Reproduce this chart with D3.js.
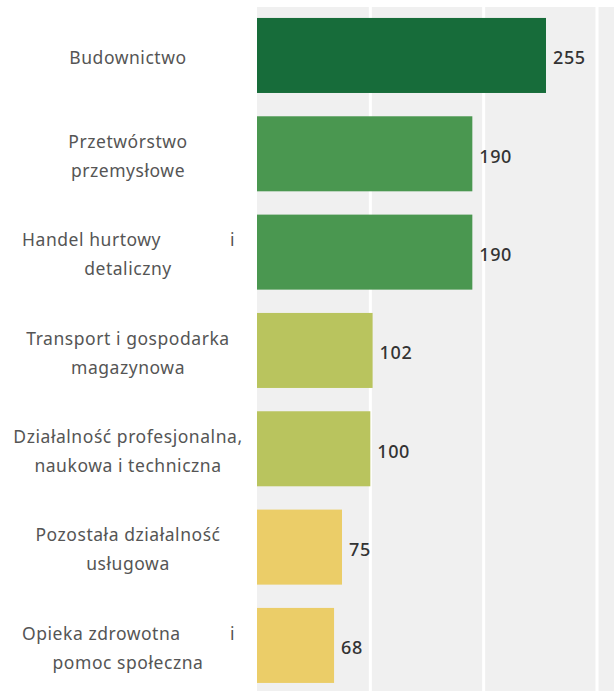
<!DOCTYPE html>
<html>
<head>
<meta charset="utf-8">
<script src="https://cdn.jsdelivr.net/npm/d3@7"></script>
<style>
  html, body { margin: 0; padding: 0; background: #fff; }
  svg { display: block; font-family: "Noto Sans", "Open Sans", sans-serif; }
</style>
</head>
<body>
<svg id="chart" width="614" height="691"></svg>
<script>
// ---- data ----
// each category = list of text lines; a line given as [left, right] is justified
const categories = [
  ["Budownictwo"],
  ["Przetwórstwo", "przemysłowe"],
  [["Handel hurtowy", "i"], "detaliczny"],
  ["Transport i gospodarka", "magazynowa"],
  ["Działalność profesjonalna,", "naukowa i techniczna"],
  ["Pozostała działalność", "usługowa"],
  [["Opieka zdrowotna", "i"], "pomoc społeczna"]
];
const values = [255, 190, 190, 102, 100, 75, 68];
const barColors = ["#176c3a", "#4a9750", "#4a9750", "#b9c45e", "#b9c45e", "#ebcd68", "#ebcd68"];
const gridTicks = [100, 200, 300];

// ---- layout ----
const W = 614, H = 691;
const plotLeft = 257, plotRight = 614, plotTop = 6.3, plotBottom = 694.6;
const labelCenter = 128, justLeft = 22, justRight = 235, lineGap = 29, textShift = 2.5;

const svg = d3.select("#chart");
const idx = d3.range(values.length);

const x = d3.scaleLinear().domain([0, 315]).range([plotLeft, plotRight]);
const y = d3.scaleBand().domain(idx).range([plotTop, plotBottom])
  .paddingInner(0.237).paddingOuter(0.1185);

// background
svg.append("rect")
  .attr("x", plotLeft).attr("y", 7)
  .attr("width", plotRight - plotLeft).attr("height", H - 7)
  .attr("fill", "#f0f0f0");

// gridlines
svg.append("g").selectAll("line").data(gridTicks).join("line")
  .attr("x1", d => x(d)).attr("x2", d => x(d))
  .attr("y1", 7).attr("y2", H)
  .attr("stroke", "#ffffff").attr("stroke-width", 3);

// bars
svg.append("g").selectAll("rect").data(idx).join("rect")
  .attr("x", x(0))
  .attr("y", i => y(i))
  .attr("width", i => x(values[i]) - x(0))
  .attr("height", y.bandwidth())
  .attr("fill", i => barColors[i]);

// value labels
svg.append("g").selectAll("text").data(idx).join("text")
  .attr("x", i => x(values[i]) + 7)
  .attr("y", i => y(i) + y.bandwidth() / 2 + textShift)
  .attr("dy", "0.35em")
  .attr("font-size", 18)
  .attr("font-weight", 500)
  .attr("letter-spacing", 0.6)
  .attr("fill", "#333333")
  .text(i => values[i]);

// category labels
const lab = svg.append("g").attr("font-size", 17.5).attr("letter-spacing", 0.55).attr("fill", "#555555");
idx.forEach(i => {
  const lines = categories[i];
  const cy = y(i) + y.bandwidth() / 2 + textShift;
  lines.forEach((ln, k) => {
    const ly = cy + (k - (lines.length - 1) / 2) * lineGap;
    if (Array.isArray(ln)) {
      lab.append("text").attr("x", justLeft).attr("y", ly).attr("dy", "0.35em")
        .attr("text-anchor", "start").text(ln[0]);
      lab.append("text").attr("x", justRight).attr("y", ly).attr("dy", "0.35em")
        .attr("text-anchor", "end").text(ln[1]);
    } else {
      lab.append("text").attr("x", labelCenter).attr("y", ly).attr("dy", "0.35em")
        .attr("text-anchor", "middle").text(ln);
    }
  });
});
</script>
</body>
</html>
